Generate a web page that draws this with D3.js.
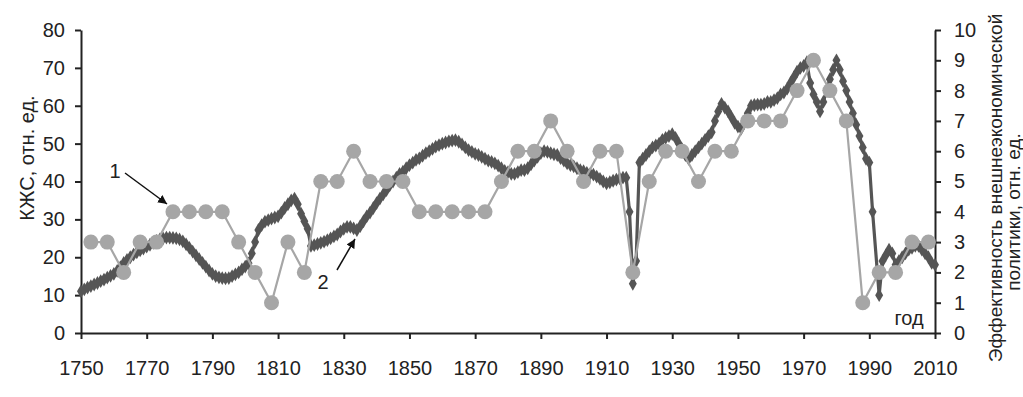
<!DOCTYPE html>
<html><head><meta charset="utf-8">
<script src="https://cdn.jsdelivr.net/npm/d3@7"></script>
<style>
html,body{margin:0;padding:0;background:#fff;}
svg text{font-family:"Liberation Sans",Arial,sans-serif;fill:#222;}
</style></head>
<body><svg id="c" width="1023" height="397"></svg>
<script>
// Series 2: КЖС (left axis), annual 1750..2010
const kzsStart = 1750;
const kzsValues = [
 11,11.5,12,12.4,12.8,13.2,13.7,14.1,14.6,15.1,
 15.6,16.4,17.4,18.5,19.3,20,20.7,21.3,21.8,22.3,
 22.8,23.3,23.8,24.3,24.7,25,25.2,25.2,25.1,25,
 24.7,24.2,23.4,22.5,21.5,20.5,19.5,18.5,17.5,16.5,
 15.6,15,14.7,14.5,14.4,14.5,15,15.5,16,16.8,
 17.5,18.4,21,24,27.2,28.5,29.4,29.8,30.2,30.5,
 30.8,31.8,33,34,35,35.5,34,31.5,29.5,27.5,
 23,23.2,23.5,23.8,24.1,24.5,25,25.5,26,26.8,
 27.5,28,28,27.6,27.2,28.2,29.5,30.8,31.8,33,
 34.3,35.5,36.6,37.7,39,40,41,42,42.6,43.5,
 44.3,45,45.7,46.1,46.8,47.5,48,48.6,49.2,49.6,
 50,50.3,50.6,50.8,50.9,50.5,49.8,49,48.3,47.8,
 47.3,47,46.5,46,45.5,45.2,44.8,44.2,43.5,42.8,
 42.5,42,42,42.5,43,43,43.5,44.5,45.5,46.5,
 47.5,48,47.8,47.5,47.2,47,46.2,45.5,44.8,44.3,
 44,43.5,43,42.7,42.3,42,41.8,41.3,40.7,40,
 39.5,39.8,40.2,40.5,40.8,41,41,32,13,19,
 45,46,47,48,49,49.5,50,51,51.5,52,
 52.5,51.5,50,48.5,47,46,47,48,49,50,
 51,52,53,56,58.5,60.5,59.5,58.5,57,55.5,
 54.5,54,56,58,60,60.2,60.3,60.3,60.5,61,
 61,61.5,62,63,63.5,64.5,66,67.5,69,70,
 70.5,71.5,66,63,61,58.5,61,64,67,69.5,
 72,69.5,66.5,64,61,58,55,52,49,46,
 45,32,null,10,19,20.5,22,21,18,19,
 20,21,22,22.5,23,23,22,21,20,18.5,
 18
];
// Series 1: efficiency of foreign economic policy (right axis)
const effYears = [1753,1758,1763,1768,1773,1778,1783,1788,1793,1798,1803,1808,1813,1818,1823,1828,1833,1838,1843,1848,1853,1858,1863,1868,1873,1878,1883,1888,1893,1898,1903,1908,1913,1918,1923,1928,1933,1938,1943,1948,1953,1958,1963,1968,1973,1978,1983,1988,1993,1998,2003,2008];
const effValues = [3,3,2,3,3,4,4,4,4,3,2,1,3,2,5,5,6,5,5,5,4,4,4,4,4,5,6,6,7,6,5,6,6,2,5,6,6,5,6,6,7,7,7,8,9,8,7,1,2,2,3,3];
const xTicks = [1750,1770,1790,1810,1830,1850,1870,1890,1910,1930,1950,1970,1990,2010];
const yLeftTicks = [0,10,20,30,40,50,60,70,80];
const yRightTicks = [0,1,2,3,4,5,6,7,8,9,10];
const leftTitle = "КЖС, отн. ед.";
const rightTitle = ["Эффективность внешнеэкономической","политики, отн. ед."];
const xUnit = "год";

const svg = d3.select("#c");
const L = 81, R = 935, T = 30, B = 333;
const x = d3.scaleLinear().domain([1750,2010]).range([L,R]);
const yL = d3.scaleLinear().domain([0,80]).range([B,T]);
const yR = d3.scaleLinear().domain([0,10]).range([B,T]);
const axisColor = "#222";
const fs = 20;

// axes
const gx = svg.append("g").attr("transform",`translate(0,${B})`)
  .call(d3.axisBottom(x).tickValues(xTicks).tickFormat(d3.format("d")).tickSizeInner(6).tickSizeOuter(0).tickPadding(22));
const gl = svg.append("g").attr("transform",`translate(${L},0)`)
  .call(d3.axisLeft(yL).tickValues(yLeftTicks).tickSizeInner(6).tickSizeOuter(0).tickPadding(10));
const gr = svg.append("g").attr("transform",`translate(${R},0)`)
  .call(d3.axisRight(yR).tickValues(yRightTicks).tickSizeInner(6).tickSizeOuter(0).tickPadding(13));
[gx,gl,gr].forEach(g=>{
  g.selectAll("path").attr("stroke",axisColor).attr("stroke-width",2);
  g.selectAll("line").attr("stroke",axisColor).attr("stroke-width",2);
  g.selectAll("text").attr("font-size",fs).attr("font-family","Liberation Sans, Arial, sans-serif").attr("fill","#222");
});

// titles
svg.append("text").attr("transform",`translate(34,${158}) rotate(-90)`)
  .attr("text-anchor","middle").attr("font-size",fs).text(leftTitle);
svg.append("text").attr("transform",`translate(1002,188) rotate(-90)`)
  .attr("text-anchor","middle").attr("font-size",19).text(rightTitle[0]);
svg.append("text").attr("transform",`translate(1020,212) rotate(-90)`)
  .attr("text-anchor","middle").attr("font-size",19).text(rightTitle[1]);
svg.append("text").attr("x",909).attr("y",325).attr("text-anchor","middle").attr("font-size",fs).text(xUnit);

// series 2 (dark)
const kzs = kzsValues.map((v,i)=>({year:kzsStart+i,v})).filter(d=>d.v!==null);
const dark = "#555555";
svg.append("path").datum(kzs)
  .attr("d",d3.line().x(d=>x(d.year)).y(d=>yL(d.v)))
  .attr("fill","none").attr("stroke",dark).attr("stroke-width",3.2);
const dm = d3.symbol().type(d3.symbolDiamond).size(55);
svg.append("g").selectAll("path").data(kzs).join("path")
  .attr("transform",d=>`translate(${x(d.year)},${yL(d.v)})`)
  .attr("d",dm).attr("fill",dark);

// series 1 (light)
const light = "#a6a6a6";
const eff = effYears.map((y,i)=>({year:y,v:effValues[i]}));
svg.append("path").datum(eff)
  .attr("d",d3.line().x(d=>x(d.year)).y(d=>yR(d.v)))
  .attr("fill","none").attr("stroke",light).attr("stroke-width",2.2);
svg.append("g").selectAll("circle").data(eff).join("circle")
  .attr("cx",d=>x(d.year)).attr("cy",d=>yR(d.v)).attr("r",7.5).attr("fill",light);

// annotations
const defs = svg.append("defs");
defs.append("marker").attr("id","ah").attr("viewBox","0 0 10 10").attr("refX",10).attr("refY",5)
  .attr("markerWidth",9).attr("markerHeight",9).attr("markerUnits","userSpaceOnUse").attr("orient","auto")
  .append("path").attr("d","M0,0L10,5L0,10z").attr("fill","#111");
svg.append("text").attr("x",115).attr("y",178).attr("text-anchor","middle").attr("font-size",fs).text("1");
svg.append("line").attr("x1",125).attr("y1",173).attr("x2",167).attr("y2",204)
  .attr("stroke","#111").attr("stroke-width",1.5).attr("marker-end","url(#ah)");
svg.append("text").attr("x",323).attr("y",289).attr("text-anchor","middle").attr("font-size",fs).text("2");
svg.append("line").attr("x1",337).attr("y1",270).attr("x2",355).attr("y2",239)
  .attr("stroke","#111").attr("stroke-width",1.5).attr("marker-end","url(#ah)");
</script></body></html>
